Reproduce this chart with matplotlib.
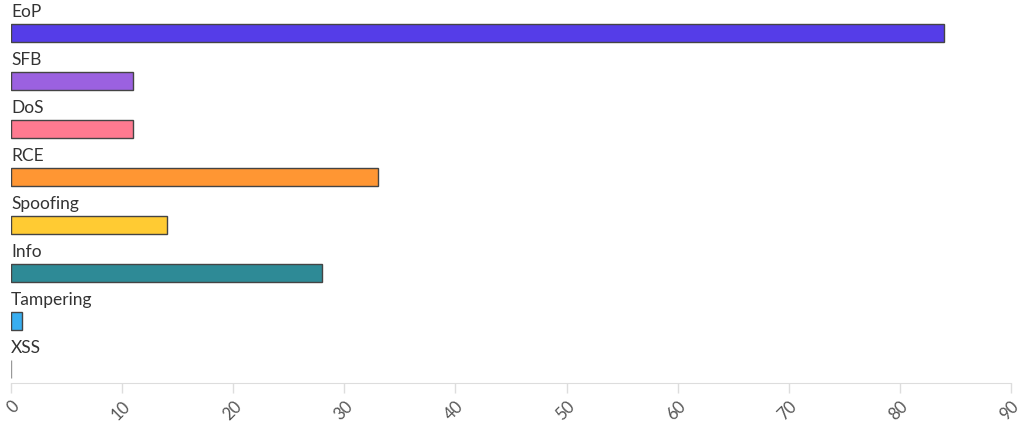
import numpy as np
import matplotlib
matplotlib.use("Agg")
import matplotlib.pyplot as plt

plt.rcParams['font.family'] = ['Lato', 'DejaVu Sans']

categories = ["EoP", "SFB", "DoS", "RCE", "Spoofing", "Info", "Tampering", "XSS"]
values = [84, 11, 11, 33, 14, 28, 1, 0]
colors = ["#553de8", "#9b61e0", "#ff7a90", "#ff9633", "#ffcb33", "#2e8a96", "#38aef0", "#bbbbbb"]
ticks = [0, 10, 20, 30, 40, 50, 60, 70, 80, 90]

fig = plt.figure(figsize=(10.24, 4.29), dpi=100)
ax = fig.add_axes([11/1024, 1 - 383/429, 1000/1024, 383/429])

pos = np.arange(len(categories))
bh = 0.375
edges = ["#444444"] * (len(categories) - 1) + ["#999999"]
ax.barh(pos, values, height=bh, color=colors, edgecolor=edges, linewidth=1.0)

for i, c in enumerate(categories):
    ax.text(0, pos[i] - bh/2 - 0.08, c, ha="left", va="bottom",
            fontsize=12.5, color="#333333")

ax.set_xlim(0, 90)
ax.set_ylim(7.29, -0.69)
ax.set_xticks(ticks)
ax.set_xticklabels([str(t) for t in ticks], rotation=45, ha="right",
                   rotation_mode="anchor", fontsize=12, color="#555555")
ax.tick_params(axis="x", length=7, color="#dddddd", width=1, pad=4)
ax.set_yticks([])
for s in ["top", "right", "left"]:
    ax.spines[s].set_visible(False)
ax.spines["bottom"].set_color("#dddddd")

fig.savefig("out.png", dpi=100)
